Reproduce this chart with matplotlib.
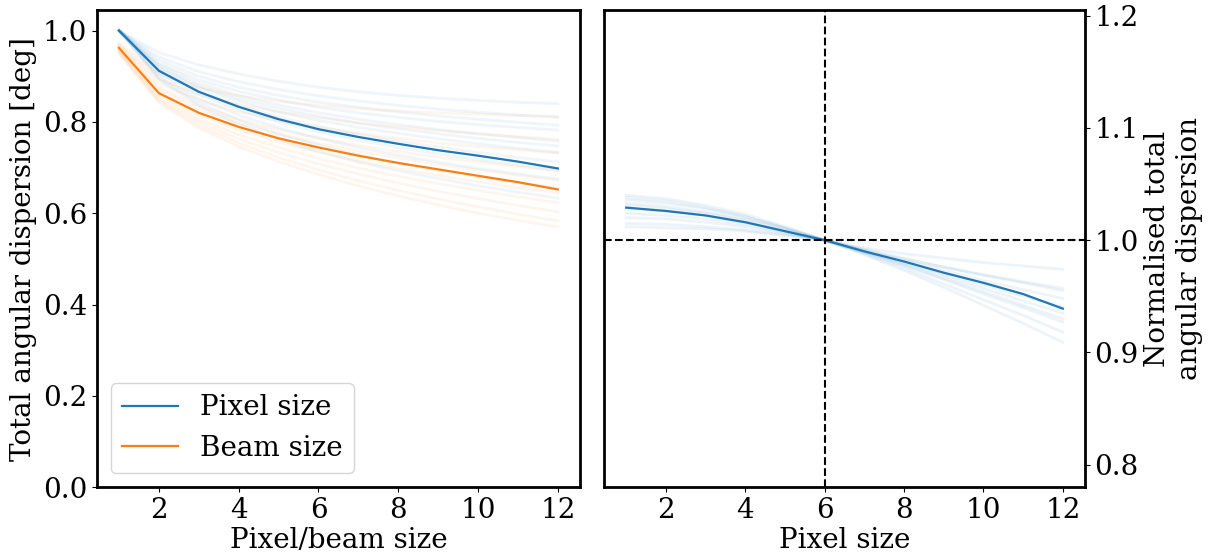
import numpy as np
import matplotlib
matplotlib.use("Agg")
from matplotlib import pyplot as plt

plt.rcParams['font.family'] = 'DejaVu Serif'
plt.rcParams['mathtext.fontset'] = 'dejavuserif'

sizes = [1, 2, 3, 4, 5, 6, 7, 8, 9, 10, 11, 12]

# main curves
pixel_main = [1.0, 0.912, 0.866, 0.833, 0.806, 0.784, 0.767, 0.752, 0.738, 0.726, 0.713, 0.698]
beam_main = [0.962, 0.863, 0.820, 0.789, 0.764, 0.744, 0.726, 0.710, 0.696, 0.682, 0.668, 0.652]
norm_main = [1.029, 1.026, 1.022, 1.016, 1.008, 1.0, 0.990, 0.981, 0.971, 0.962, 0.952, 0.939]

# individual curves (faint)
pixel_faint = [
    [1.0, 0.952, 0.925, 0.905, 0.889, 0.876, 0.866, 0.858, 0.852, 0.847, 0.843, 0.840],
    [1.0, 0.942, 0.910, 0.888, 0.871, 0.857, 0.846, 0.836, 0.828, 0.821, 0.815, 0.810],
    [1.0, 0.935, 0.900, 0.876, 0.858, 0.843, 0.832, 0.822, 0.813, 0.806, 0.799, 0.793],
    [1.0, 0.928, 0.892, 0.867, 0.848, 0.832, 0.820, 0.810, 0.801, 0.794, 0.788, 0.782],
    [1.0, 0.925, 0.885, 0.858, 0.837, 0.820, 0.806, 0.794, 0.783, 0.774, 0.766, 0.758],
    [1.0, 0.920, 0.879, 0.851, 0.830, 0.812, 0.797, 0.785, 0.774, 0.764, 0.755, 0.747],
    [1.0, 0.918, 0.875, 0.845, 0.822, 0.803, 0.788, 0.775, 0.763, 0.752, 0.742, 0.733],
    [1.0, 0.913, 0.868, 0.836, 0.811, 0.790, 0.773, 0.758, 0.745, 0.733, 0.722, 0.712],
    [1.0, 0.908, 0.860, 0.826, 0.800, 0.778, 0.760, 0.744, 0.730, 0.717, 0.705, 0.694],
    [1.0, 0.902, 0.851, 0.815, 0.787, 0.764, 0.744, 0.727, 0.712, 0.698, 0.686, 0.675],
    [1.0, 0.897, 0.843, 0.804, 0.774, 0.749, 0.728, 0.710, 0.694, 0.680, 0.667, 0.655],
    [1.0, 0.893, 0.836, 0.795, 0.762, 0.735, 0.712, 0.693, 0.676, 0.660, 0.646, 0.633],
]
beam_faint = [
    [0.972, 0.905, 0.875, 0.857, 0.845, 0.836, 0.829, 0.824, 0.820, 0.817, 0.814, 0.812],
    [0.970, 0.893, 0.860, 0.838, 0.822, 0.809, 0.798, 0.789, 0.781, 0.774, 0.768, 0.762],
    [0.968, 0.885, 0.848, 0.822, 0.803, 0.788, 0.775, 0.764, 0.754, 0.746, 0.739, 0.732],
    [0.965, 0.875, 0.835, 0.806, 0.783, 0.765, 0.749, 0.735, 0.723, 0.712, 0.702, 0.693],
    [0.963, 0.870, 0.828, 0.797, 0.773, 0.753, 0.736, 0.721, 0.707, 0.695, 0.683, 0.672],
    [0.960, 0.860, 0.815, 0.782, 0.756, 0.734, 0.715, 0.698, 0.683, 0.669, 0.656, 0.644],
    [0.958, 0.855, 0.807, 0.772, 0.744, 0.720, 0.699, 0.681, 0.665, 0.650, 0.636, 0.623],
    [0.955, 0.850, 0.800, 0.763, 0.733, 0.708, 0.686, 0.666, 0.648, 0.632, 0.617, 0.603],
    [0.952, 0.846, 0.793, 0.754, 0.722, 0.695, 0.671, 0.650, 0.631, 0.614, 0.598, 0.583],
    [0.950, 0.842, 0.787, 0.746, 0.713, 0.685, 0.660, 0.638, 0.618, 0.600, 0.584, 0.570],
]
norm_faint = [
    [1.040, 1.037, 1.031, 1.023, 1.012, 1.0, 0.993, 0.988, 0.984, 0.980, 0.977, 0.974],
    [1.038, 1.035, 1.029, 1.021, 1.011, 1.0, 0.989, 0.978, 0.966, 0.954, 0.942, 0.930],
    [1.036, 1.033, 1.028, 1.021, 1.011, 1.0, 0.991, 0.983, 0.976, 0.969, 0.963, 0.957],
    [1.033, 1.030, 1.025, 1.019, 1.010, 1.0, 0.990, 0.979, 0.968, 0.957, 0.946, 0.935],
    [1.031, 1.028, 1.024, 1.018, 1.009, 1.0, 0.991, 0.982, 0.973, 0.964, 0.956, 0.948],
    [1.028, 1.026, 1.022, 1.016, 1.008, 1.0, 0.989, 0.977, 0.965, 0.952, 0.940, 0.927],
    [1.024, 1.022, 1.019, 1.014, 1.007, 1.0, 0.988, 0.975, 0.961, 0.947, 0.933, 0.918],
    [1.020, 1.019, 1.016, 1.012, 1.006, 1.0, 0.987, 0.973, 0.958, 0.942, 0.926, 0.909],
    [1.015, 1.014, 1.012, 1.009, 1.005, 1.0, 0.990, 0.980, 0.970, 0.960, 0.950, 0.941],
    [1.012, 1.011, 1.010, 1.008, 1.004, 1.0, 0.992, 0.984, 0.976, 0.969, 0.962, 0.955],
]

fs = 20
fig = plt.figure(figsize=(12.16, 5.58), dpi=100)
ax1 = fig.add_axes([0.0798, 0.127, 0.397, 0.855])
ax2 = fig.add_axes([0.497, 0.127, 0.395, 0.855])

# left panel
for c in pixel_faint:
    ax1.plot(sizes, c, color='C0', alpha=0.07, lw=2)
for c in beam_faint:
    ax1.plot(sizes, c, color='C1', alpha=0.07, lw=2)
ax1.plot(sizes, pixel_main, color='C0', lw=1.6, label='Pixel size')
ax1.plot(sizes, beam_main, color='C1', lw=1.6, label='Beam size')
ax1.set_ylim(0, 1.045)
ax1.set_xticks([2, 4, 6, 8, 10, 12])
ax1.set_yticks([0.0, 0.2, 0.4, 0.6, 0.8, 1.0])
ax1.set_xlabel('Pixel/beam size', fontsize=fs, labelpad=2)
ax1.set_ylabel('Total angular dispersion [deg]', fontsize=fs)
ax1.tick_params(labelsize=fs)
ax1.legend(loc='lower left', fontsize=fs)

# right panel
for c in norm_faint:
    ax2.plot(sizes, c, color='C0', alpha=0.08, lw=2)
ax2.plot(sizes, norm_main, color='C0', lw=1.6)
ax2.axvline(6, color='k', ls='--', lw=1.5)
ax2.axhline(1.0, color='k', ls='--', lw=1.5)
ax2.set_ylim(0.78, 1.205)
ax2.set_xticks([2, 4, 6, 8, 10, 12])
ax2.set_yticks([0.8, 0.9, 1.0, 1.1, 1.2])
ax2.yaxis.tick_right()
ax2.yaxis.set_label_position('right')
ax2.set_xlabel('Pixel size', fontsize=fs, labelpad=2)
ax2.set_ylabel('Normalised total\nangular dispersion', fontsize=fs)
ax2.tick_params(labelsize=fs)

for ax in (ax1, ax2):
    for s in ax.spines.values():
        s.set_linewidth(2)

fig.savefig('out.png', dpi=100)
